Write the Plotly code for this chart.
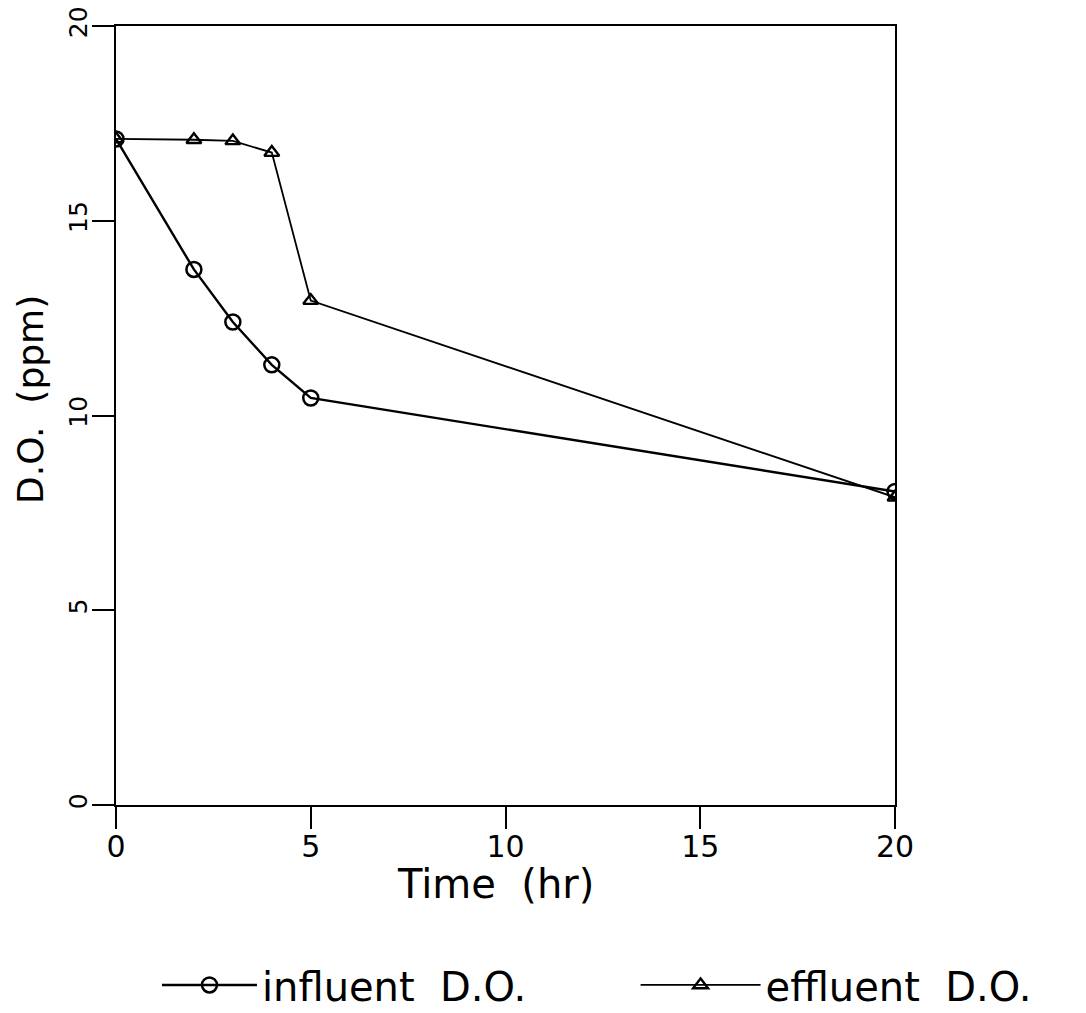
import plotly.graph_objects as go

time_hr = [0, 2, 3, 4, 5, 20]
influent_do = [17.1, 13.75, 12.4, 11.3, 10.45, 8.05]
effluent_do = [17.1, 17.08, 17.05, 16.75, 12.95, 7.9]
tick_vals = [0, 5, 10, 15, 20]
tick_text = ["0", "5", "10", "15", "20"]

FONT = "DejaVu Sans"

fig = go.Figure()
fig.add_trace(go.Scatter(
    x=time_hr, y=influent_do, mode="lines+markers", name="influent  D.O.",
    line=dict(color="black", width=2.4),
    marker=dict(symbol="circle-open", size=15, color="black", line=dict(width=2.5)),
    legend="legend",
))
fig.add_trace(go.Scatter(
    x=time_hr, y=effluent_do, mode="lines+markers", name="effluent  D.O.",
    line=dict(color="black", width=1.8),
    marker=dict(symbol="triangle-up-open", size=13, color="black", line=dict(width=2.4)),
    legend="legend2",
))

legend_style = dict(orientation="h", xanchor="left", y=-0.231, yanchor="middle",
                    font=dict(size=40, family=FONT), bgcolor="rgba(0,0,0,0)")

fig.update_layout(
    width=1078, height=1005,
    margin=dict(l=108, r=191, t=18, b=208, autoexpand=False),
    paper_bgcolor="white", plot_bgcolor="white",
    font=dict(family=FONT, color="black"),
    showlegend=True,
    legend=dict(x=0.0526, itemwidth=95, **legend_style),
    legend2=dict(x=0.667, itemwidth=120, **legend_style),
    xaxis=dict(range=[0, 20], tickvals=tick_vals, ticktext=tick_text, showgrid=False,
               zeroline=False, showline=True, linecolor="black", linewidth=2, mirror=True,
               ticks="outside", ticklen=22, tickwidth=2, tickcolor="black",
               ticklabelstandoff=-8, ticklabeloverflow="allow",
               tickfont=dict(size=30, family=FONT), automargin=False),
    yaxis=dict(range=[0, 20], tickvals=tick_vals, ticktext=tick_text, showgrid=False,
               zeroline=False, showline=True, linecolor="black", linewidth=2, mirror=True,
               ticks="outside", ticklen=22, tickwidth=2, tickcolor="black", tickangle=-90,
               ticklabelstandoff=-5, ticklabeloverflow="allow",
               tickfont=dict(size=25, family=FONT), automargin=False),
    annotations=[
        dict(text="Time  (hr)", xref="paper", yref="paper", x=0.487, y=-0.101,
             xanchor="center", yanchor="middle", showarrow=False,
             font=dict(size=40, family=FONT)),
        dict(text="D.O.  (ppm)", xref="paper", yref="paper", x=-0.109, y=0.52,
             xanchor="center", yanchor="middle", showarrow=False, textangle=-90,
             font=dict(size=36, family=FONT)),
    ],
)

fig.write_html("out.html")
